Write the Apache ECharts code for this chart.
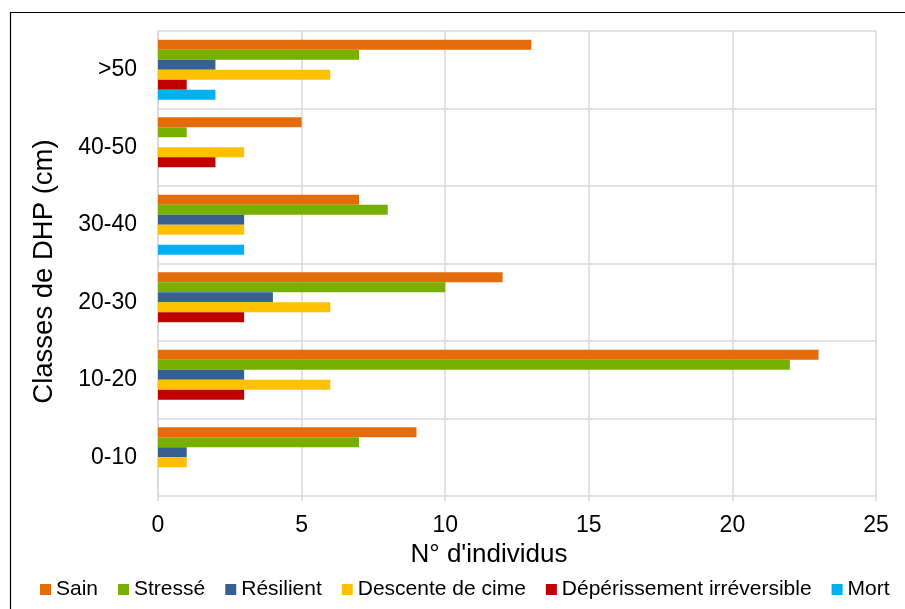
<!DOCTYPE html>
<html>
<head>
<meta charset="utf-8">
<script src="https://cdn.jsdelivr.net/npm/echarts@6/dist/echarts.min.js"></script>
<style>
  html, body { margin: 0; padding: 0; background: #fff; }
  #chart { width: 905px; height: 609px; }
</style>
</head>
<body>
<div id="chart"></div>
<script>
// Diameter classes (bottom to top)
const classes = ['0-10', '10-20', '20-30', '30-40', '40-50', '>50'];

// Number of trees per health state, per diameter class
const sain          = [9, 23, 12, 7, 5, 13];
const stresse       = [7, 22, 10, 8, 1, 7];
const resilient     = [1, 3, 4, 3, 0, 2];
const descente      = [1, 6, 6, 3, 3, 6];
const deperissement = [0, 3, 3, 0, 2, 1];
const mort          = [0, 0, 0, 3, 0, 2];

const xTicks = [0, 5, 10, 15, 20, 25];

const stateNames = ['Sain', 'Stressé', 'Résilient', 'Descente de cime', 'Dépérissement irréversible', 'Mort'];
const stateValues = [sain, stresse, resilient, descente, deperissement, mort];
const stateColors = ['#E46C0A', '#77B000', '#376092', '#FFC000', '#C00000', '#00B0F0'];

const FONT = "'Liberation Sans', Arial, sans-serif";

const series = stateNames.map((name, i) => ({
  name: name,
  type: 'bar',
  data: stateValues[i],
  barWidth: 10,
  barGap: '0%',
  itemStyle: { color: stateColors[i] },
  emphasis: { disabled: true }
}));

const chart = echarts.init(document.getElementById('chart'), null, { renderer: 'canvas' });
chart.setOption({
  animation: false,
  backgroundColor: '#fff',
  textStyle: { fontFamily: FONT },
  graphic: [{
    type: 'rect',
    shape: { x: 10.5, y: 12.5, width: 1000, height: 1000 },
    style: { fill: 'none', stroke: '#000', lineWidth: 1.2 },
    silent: true
  }],
  grid: { left: 158, right: 29, top: 31, bottom: 113 },
  legend: {
    data: stateNames,
    left: 40,
    top: 579,
    padding: 0,
    itemWidth: 11,
    itemHeight: 11,
    itemGap: 20,
    icon: 'rect',
    textStyle: { fontFamily: FONT, fontSize: 21, color: '#000' }
  },
  xAxis: {
    type: 'value',
    min: xTicks[0],
    max: xTicks[xTicks.length - 1],
    interval: 5,
    name: "N° d'individus",
    nameLocation: 'middle',
    nameGap: 42,
    nameTextStyle: { fontFamily: FONT, fontSize: 26, color: '#000', padding: [0, 56, 0, 0] },
    axisLine: { show: false },
    axisTick: { show: true, length: 5, lineStyle: { color: '#d9d9d9', width: 1.5 } },
    axisLabel: { fontFamily: FONT, fontSize: 23, color: '#000', margin: 18 },
    splitLine: { show: true, lineStyle: { color: '#d9d9d9', width: 1.5 } }
  },
  yAxis: {
    type: 'category',
    data: classes,
    name: 'Classes de DHP (cm)',
    nameLocation: 'middle',
    nameGap: 100,
    nameTextStyle: { fontFamily: FONT, fontSize: 27.5, color: '#000', padding: [0, 16, 0, 0] },
    axisLine: { show: true, lineStyle: { color: '#d9d9d9', width: 1.5 } },
    axisTick: { show: false },
    axisLabel: { fontFamily: FONT, fontSize: 23, color: '#000', margin: 21 },
    splitLine: { show: true, lineStyle: { color: '#d9d9d9', width: 1.5 } }
  },
  series: series
});
</script>
</body>
</html>
